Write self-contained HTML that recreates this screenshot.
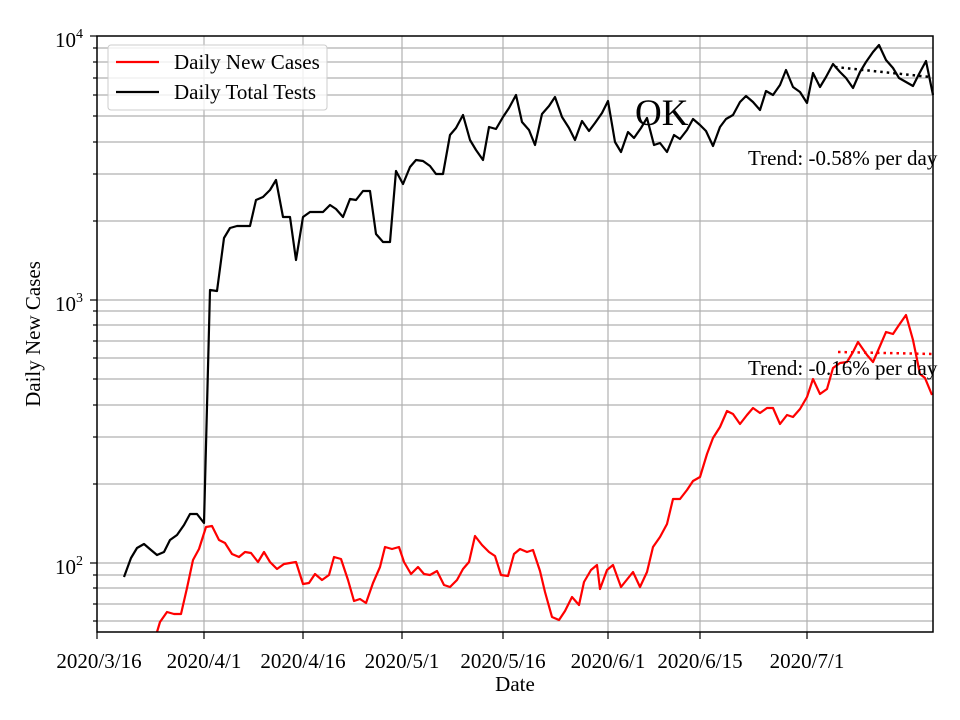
<!DOCTYPE html>
<html><head><meta charset="utf-8"><style>body{margin:0;background:#fff}svg{display:block}</style></head><body>
<svg width="960" height="720" xmlns="http://www.w3.org/2000/svg" font-family="Liberation Serif, serif">
<rect width="960" height="720" fill="#fff"/>
<g stroke="#b0b0b0" stroke-width="1.2">
<line x1="97" x2="933" y1="300" y2="300"/><line x1="97" x2="933" y1="563" y2="563"/>
<line x1="97" x2="933" y1="221" y2="221"/><line x1="97" x2="933" y1="174" y2="174"/><line x1="97" x2="933" y1="142" y2="142"/><line x1="97" x2="933" y1="116" y2="116"/><line x1="97" x2="933" y1="95" y2="95"/><line x1="97" x2="933" y1="78" y2="78"/><line x1="97" x2="933" y1="62" y2="62"/><line x1="97" x2="933" y1="48" y2="48"/>
<line x1="97" x2="933" y1="484" y2="484"/><line x1="97" x2="933" y1="437" y2="437"/><line x1="97" x2="933" y1="405" y2="405"/><line x1="97" x2="933" y1="379" y2="379"/><line x1="97" x2="933" y1="358" y2="358"/><line x1="97" x2="933" y1="341" y2="341"/><line x1="97" x2="933" y1="325" y2="325"/><line x1="97" x2="933" y1="311" y2="311"/>
<line x1="97" x2="933" y1="621" y2="621"/><line x1="97" x2="933" y1="604" y2="604"/><line x1="97" x2="933" y1="588" y2="588"/><line x1="97" x2="933" y1="575" y2="575"/>
<line x1="204" x2="204" y1="36" y2="632"/><line x1="303" x2="303" y1="36" y2="632"/><line x1="402" x2="402" y1="36" y2="632"/><line x1="503" x2="503" y1="36" y2="632"/><line x1="608" x2="608" y1="36" y2="632"/><line x1="700" x2="700" y1="36" y2="632"/><line x1="807" x2="807" y1="36" y2="632"/>
</g>
<polyline fill="none" stroke="#000" stroke-width="2.2" stroke-linejoin="round" points="124,577 131,558 137,548 144,544 151,550 157,555 164,552 170,540 177,535 184,525 190,514 197,514 204,523 210,290 217,291 224,238 230,228 237,226 243,226 250,226 256,200 263,197 270,190 276,180 283,217 290,217 296,260 303,217 310,212 316,212 323,212 330,205 336,209 343,217 350,199 356,200 363,191 370,191 376,234 383,242 390,242 396,171 403,184 410,167 416,160 423,161 430,166 436,174 443,174 450,135 456,128 463,115 470,140 476,150 483,160 489,127 496,129 503,117 509,108 516,95 522,122 529,130 535,145 542,114 549,106 555,97 562,117 569,128 575,140 582,121 589,131 595,123 602,113 608,101 615,142 621,152 628,132 634,138 641,128 647,118 654,145 660,143 667,152 674,135 680,139 687,130 693,119 700,125 706,131 713,146 720,127 726,119 733,115 740,102 746,96 753,102 760,110 766,91 773,95 780,85 786,70 793,87 800,92 807,103 813,73 820,87 826,77 833,64 840,72 846,78 853,88 860,72 866,62 873,52 879,45 886,60 893,68 899,78 906,82 913,86 919,74 926,61 933,95"/>
<polyline fill="none" stroke="#f00" stroke-width="2.2" stroke-linejoin="round" points="157,632 160,622 167,612 174,614 181,614 187,588 193,560 199,549 206,527 212,526 219,540 225,543 232,554 239,557 245,552 251,553 258,562 264,552 270,562 277,569 284,564 296,562 303,584 309,583 315,574 322,580 329,575 334,557 341,559 348,580 354,601 360,599 366,603 373,583 380,567 385,547 392,549 399,547 404,562 411,574 418,567 424,574 430,575 437,571 444,585 450,587 457,580 463,569 469,562 475,536 482,545 489,552 495,556 501,575 508,576 514,554 520,549 527,552 533,550 540,571 545,592 552,617 559,620 565,611 572,597 579,605 584,582 591,570 597,565 600,589 607,570 613,565 621,587 633,572 640,587 647,572 653,547 660,537 667,524 673,499 680,499 687,490 693,481 700,477 707,454 713,438 720,427 727,411 733,414 740,424 747,415 753,408 760,413 767,408 773,408 780,424 787,415 793,417 800,409 807,397 813,379 820,394 827,389 833,368 840,363 847,362 853,352 858,342 867,355 873,362 880,346 886,332 893,334 899,325 906,315 913,340 920,374 925,378 932,395"/>
<line x1="835" y1="67" x2="930" y2="77" stroke="#000" stroke-width="2.5" stroke-dasharray="2.5,4"/>
<line x1="838" y1="352" x2="933" y2="354" stroke="#f00" stroke-width="2.5" stroke-dasharray="2.5,4"/>
<rect x="97" y="36" width="836" height="596" fill="none" stroke="#000" stroke-width="1.5"/>
<g stroke="#000" stroke-width="1.2">
<line x1="90" x2="97" y1="36" y2="36"/><line x1="90" x2="97" y1="300" y2="300"/><line x1="90" x2="97" y1="563" y2="563"/>
<line x1="93" x2="97" y1="221" y2="221"/><line x1="93" x2="97" y1="174" y2="174"/><line x1="93" x2="97" y1="142" y2="142"/><line x1="93" x2="97" y1="116" y2="116"/><line x1="93" x2="97" y1="95" y2="95"/><line x1="93" x2="97" y1="78" y2="78"/><line x1="93" x2="97" y1="62" y2="62"/><line x1="93" x2="97" y1="48" y2="48"/>
<line x1="93" x2="97" y1="484" y2="484"/><line x1="93" x2="97" y1="437" y2="437"/><line x1="93" x2="97" y1="405" y2="405"/><line x1="93" x2="97" y1="379" y2="379"/><line x1="93" x2="97" y1="358" y2="358"/><line x1="93" x2="97" y1="341" y2="341"/><line x1="93" x2="97" y1="325" y2="325"/><line x1="93" x2="97" y1="311" y2="311"/>
<line x1="93" x2="97" y1="621" y2="621"/><line x1="93" x2="97" y1="604" y2="604"/><line x1="93" x2="97" y1="588" y2="588"/><line x1="93" x2="97" y1="575" y2="575"/>
<line x1="97" x2="97" y1="632" y2="639"/><line x1="204" x2="204" y1="632" y2="639"/><line x1="303" x2="303" y1="632" y2="639"/><line x1="402" x2="402" y1="632" y2="639"/><line x1="503" x2="503" y1="632" y2="639"/><line x1="608" x2="608" y1="632" y2="639"/><line x1="700" x2="700" y1="632" y2="639"/><line x1="807" x2="807" y1="632" y2="639"/>
</g>
<g font-size="21" fill="#000">
<text x="55" y="47">10<tspan font-size="14" dy="-9">4</tspan></text>
<text x="55" y="311">10<tspan font-size="14" dy="-9">3</tspan></text>
<text x="55" y="574">10<tspan font-size="14" dy="-9">2</tspan></text>
<g text-anchor="middle">
<text x="99" y="668">2020/3/16</text><text x="204" y="668">2020/4/1</text><text x="303" y="668">2020/4/16</text><text x="402" y="668">2020/5/1</text><text x="503" y="668">2020/5/16</text><text x="608" y="668">2020/6/1</text><text x="700" y="668">2020/6/15</text><text x="807" y="668">2020/7/1</text>
<text x="515" y="691">Date</text>
<text transform="translate(40,334) rotate(-90)">Daily New Cases</text>
</g>
<text x="748" y="165">Trend: -0.58% per day</text>
<text x="748" y="375">Trend: -0.16% per day</text>
</g>
<text x="635" y="125" font-size="37">OK</text>
<rect x="108" y="45" width="219" height="65" rx="3" fill="#fff" fill-opacity="0.8" stroke="#ccc"/>
<line x1="116" x2="159" y1="62" y2="62" stroke="#f00" stroke-width="2.2"/>
<line x1="116" x2="159" y1="92" y2="92" stroke="#000" stroke-width="2.2"/>
<text x="174" y="69" font-size="21">Daily New Cases</text>
<text x="174" y="99" font-size="21">Daily Total Tests</text>
</svg>
</body></html>
